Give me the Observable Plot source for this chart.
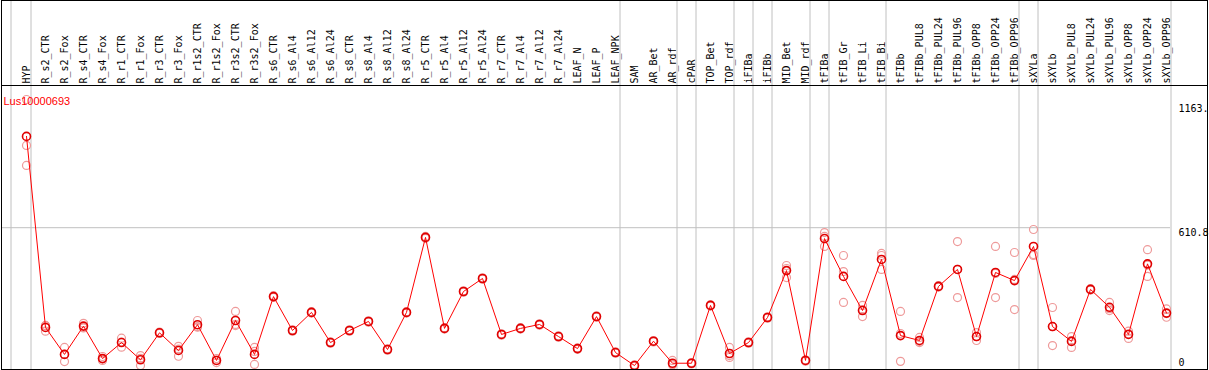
<!DOCTYPE html>
<html>
<head>
<meta charset="utf-8">
<script src="https://cdn.jsdelivr.net/npm/d3@7"></script>
<script src="https://cdn.jsdelivr.net/npm/@observablehq/plot@0.6"></script>
<style>
  html, body { margin: 0; padding: 0; background: #fff; }
  #chart svg { display: block; }
</style>
</head>
<body>
<div id="chart"></div>
<script>
const geneName = "Lus10000693";

const categories = ["HYP","R_s2_CTR","R_s2_Fox","R_s4_CTR","R_s4_Fox","R_r1_CTR","R_r1_Fox","R_r3_CTR","R_r3_Fox","R_r1s2_CTR","R_r1s2_Fox","R_r3s2_CTR","R_r3s2_Fox","R_s6_CTR","R_s6_Al4","R_s6_Al12","R_s6_Al24","R_s8_CTR","R_s8_Al4","R_s8_Al12","R_s8_Al24","R_r5_CTR","R_r5_Al4","R_r5_Al12","R_r5_Al24","R_r7_CTR","R_r7_Al4","R_r7_Al12","R_r7_Al24","LEAF_N","LEAF_P","LEAF_NPK","SAM","AR_Bet","AR_rdf","cPAR","TOP_Bet","TOP_rdf","iFIBa","iFIBb","MID_Bet","MID_rdf","tFIBa","tFIB_Gr","tFIB_Li","tFIB_Bi","tFIBb","tFIBb_PUL8","tFIBb_PUL24","tFIBb_PUL96","tFIBb_OPP8","tFIBb_OPP24","tFIBb_OPP96","sXYLa","sXYLb","sXYLb_PUL8","sXYLb_PUL24","sXYLb_PUL96","sXYLb_OPP8","sXYLb_OPP24","sXYLb_OPP96"];

const means = [1004,181,65,187,47,116,42,158,82,193,39,211,65,314,168,246,116,168,207,86,246,569,177,336,392,151,177,194,142,90,228,73,17,122,27,27,276,69,116,224,426,39,564,401,254,474,146,125,358,431,142,418,383,530,185,121,345,268,151,455,243];

const rep1 = [1163,190,95,199,56,135,60,161,100,211,47,250,95,318,171,249,119,171,210,89,249,573,180,339,395,154,180,197,145,93,231,76,20,125,39,30,279,95,119,227,448,42,590,491,276,500,250,138,361,551,159,530,504,603,267,142,348,289,165,516,261];
const rep2 = [879,165,34,181,39,96,17,155,57,182,30,194,22,311,165,243,113,165,204,83,243,565,174,333,389,148,174,191,139,87,225,70,14,119,21,24,273,52,113,221,435,36,573,289,228,491,35,121,355,310,125,310,258,491,103,125,342,254,134,401,225];
const rep3 = [965,188,65,179,47,118,48,158,88,185,39,189,78,313,168,246,116,168,207,86,246,569,177,336,392,151,177,194,142,90,228,73,17,122,21,27,276,60,116,224,396,39,530,422,258,431,155,116,358,431,142,414,388,495,185,95,345,262,154,450,241];

// group boundaries (last category of each group); the first line sits before HYP
const groupEnds = ["HYP","R_r7_A124","LEAF_NPK","AR_rdf","cPAR","TOP_rdf","iFIBa","iFIBb","MID_rdf","tFIBa","tFIB_Bi","tFIBb_OPP96","sXYLa","sXYLb_OPP96"];
const groupStart = ["HYP"];

const yMax = 1163;
const yTickValues = [1163, 610.8, 0];
const yTickLabels = ["1163.", "610.8", "0"];

const meanRows = categories.map((c, i) => ({cat: c, value: means[i]}));
const repRows = categories.flatMap((c, i) => [rep1[i], rep2[i], rep3[i]].map(v => ({cat: c, value: v})));

const mono = "DejaVu Sans Mono";

const svg = Plot.plot({
  width: 1209,
  height: 370,
  marginTop: 85,
  marginBottom: 1,
  marginLeft: 1,
  marginRight: 39,
  style: {fontFamily: mono, fontSize: "10px", background: "#fff", color: "#000"},
  x: {type: "point", domain: categories, range: [26, 1166], padding: 0, axis: "top", tickRotate: -90, tickSize: 0, tickPadding: 2, label: null},
  y: {domain: [0, yMax], range: [369, 99], axis: null},
  marks: [
    Plot.ruleX(groupEnds, {x: d => d, dx: 4.5, stroke: "#c0c0c0", strokeWidth: 1, insetTop: -85}),
    Plot.ruleX(groupStart, {x: d => d, dx: -15.5, stroke: "#c0c0c0", strokeWidth: 1, insetTop: -85}),
    Plot.ruleY([yTickValues[1]], {stroke: "#c0c0c0", strokeWidth: 1}),
    Plot.dot(repRows, {x: "cat", y: "value", r: 4, stroke: "#ee9a9a", strokeWidth: 1.2, fill: "none"}),
    Plot.line(meanRows, {x: "cat", y: "value", stroke: "#ff0000", strokeWidth: 1}),
    Plot.dot(meanRows, {x: "cat", y: "value", r: 4, stroke: "#e00000", strokeWidth: 1.6, fill: "none"}),
    Plot.text([geneName], {frameAnchor: "top-left", dx: 2, dy: 12, text: d => d, fill: "#ff0000", fontFamily: "Liberation Sans", fontSize: 11, textAnchor: "start"}),
    Plot.text([0], {y: d => yTickValues[d], text: d => yTickLabels[d], frameAnchor: "right", dx: 8, dy: 9, textAnchor: "start", fill: "#000"}),
    Plot.text([1], {y: d => yTickValues[d], text: d => yTickLabels[d], frameAnchor: "right", dx: 8, dy: 5, textAnchor: "start", fill: "#000"}),
    Plot.text([2], {y: d => yTickValues[d], text: d => yTickLabels[d], frameAnchor: "right", dx: 8, dy: -7, textAnchor: "start", fill: "#000"})
  ]
});

// outer border and separator under the label band
const s = d3.select(svg);
s.append("rect").attr("x", 1.5).attr("y", 0.5).attr("width", 1206).attr("height", 369)
  .attr("fill", "none").attr("stroke", "#000").attr("stroke-width", 1);
s.append("line").attr("x1", 1).attr("x2", 1208).attr("y1", 85.5).attr("y2", 85.5)
  .attr("stroke", "#000").attr("stroke-width", 1);

document.getElementById("chart").appendChild(svg);
</script>
</body>
</html>
